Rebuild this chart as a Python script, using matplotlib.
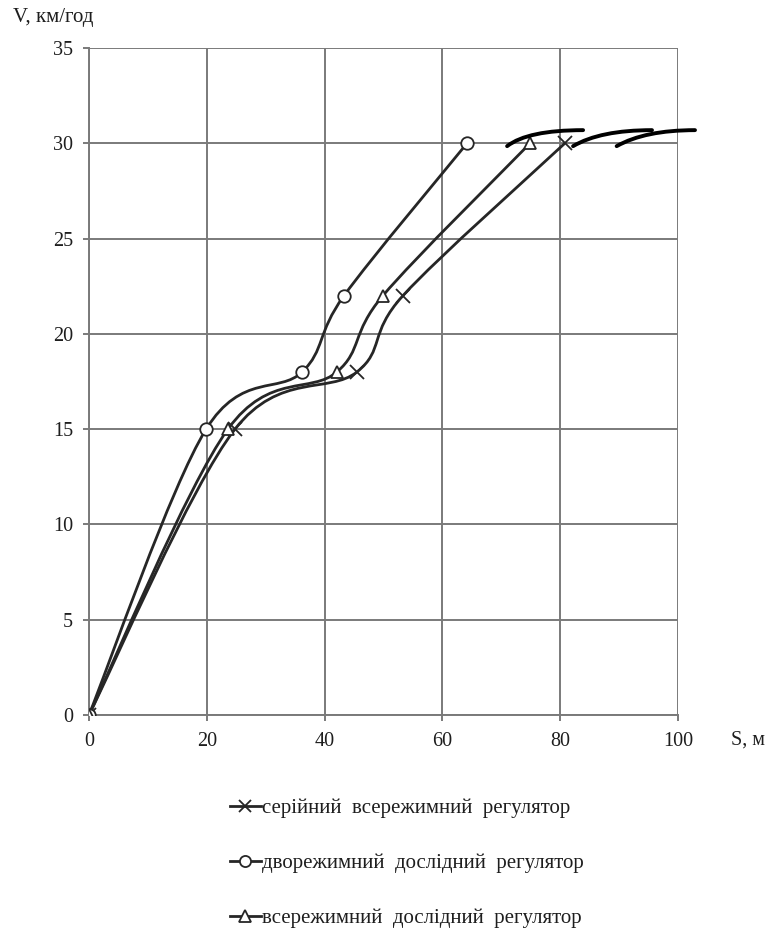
import matplotlib
matplotlib.use("Agg")
import matplotlib.pyplot as plt
from matplotlib.path import Path
from matplotlib.patches import PathPatch
from matplotlib.lines import Line2D

plt.rcParams['font.family'] = ['Liberation Serif', 'DejaVu Serif']

# data
s_serial = [0, 24.8, 45.5, 53.3, 80.8]
v_serial = [0, 15, 18, 22, 30]
s_dual = [0, 19.9, 36.2, 43.3, 64.2]
v_dual = [0, 15, 18, 22, 30]
s_allmode = [0, 23.6, 42.1, 49.9, 74.9]
v_allmode = [0, 15, 18, 22, 30]

# short strokes near the top right (start, bend, end)
arc_s = [[71.0, 74.5, 83.9], [82.2, 86.8, 95.6], [89.6, 94.4, 102.9]]
arc_v = [[29.85, 30.43, 30.69], [29.85, 30.38, 30.69], [29.85, 30.38, 30.69]]

labels = ['серійний  всережимний  регулятор',
          'дворежимний  дослідний  регулятор',
          'всережимний  дослідний  регулятор']

LINE = '#262626'
TEXT = '#1e1e1e'


def smooth_path(xs, ys):
    """excel style smoothed line through the points"""
    pts = list(zip(xs, ys))
    verts = [pts[0]]
    codes = [Path.MOVETO]
    n = len(pts)
    for i in range(n - 1):
        p0 = pts[i - 1] if i > 0 else pts[i]
        p1 = pts[i]
        p2 = pts[i + 1]
        p3 = pts[i + 2] if i + 2 < n else pts[i + 1]
        c1 = (p1[0] + (p2[0] - p0[0]) / 6, p1[1] + (p2[1] - p0[1]) / 6)
        c2 = (p2[0] - (p3[0] - p1[0]) / 6, p2[1] - (p3[1] - p1[1]) / 6)
        verts += [c1, c2, p2]
        codes += [Path.CURVE4] * 3
    return Path(verts, codes)


fig = plt.figure(figsize=(7.73, 9.32), dpi=100)
ax = fig.add_axes([0.115, 0.2328, 0.762, 0.7157])

series = [(s_serial, v_serial, 'x'), (s_dual, v_dual, 'o'), (s_allmode, v_allmode, '^')]
for xs, ys, m in series:
    ax.add_patch(PathPatch(smooth_path(xs, ys), fill=False, edgecolor=LINE, lw=2.0, zorder=3))
    ax.plot(xs, ys, ls='none', marker=m, ms=9 if m != 'x' else 10, mfc='white',
            mec=LINE, mew=1.3, zorder=4)

for xs, ys in zip(arc_s, arc_v):
    p = Path([(xs[0], ys[0]), (xs[1], ys[2]), (xs[2], ys[2])],
             [Path.MOVETO, Path.CURVE3, Path.CURVE3])
    ax.add_patch(PathPatch(p, fill=False, edgecolor='black', lw=2.8,
                           capstyle='round', clip_on=False, zorder=5))

ax.set_xlim(0, 100)
ax.set_ylim(0, 35)
ax.set_xticks(range(0, 101, 20))
ax.set_yticks(range(0, 36, 5))
ax.grid(True, color='#7a7a7a', lw=1.4)
for side in ['top', 'right']:
    ax.spines[side].set_visible(False)
for side in ['left', 'bottom']:
    ax.spines[side].set_color('#7a7a7a')
    ax.spines[side].set_linewidth(1.4)
ax.tick_params(colors='#7a7a7a', labelcolor=TEXT, labelsize=14.5, length=4.5, width=1.4)
ax.tick_params(axis='x', pad=8)
ax.tick_params(axis='y', pad=7)
ax.set_axisbelow(True)

fig.text(0.017, 0.981, 'V, км/год', fontsize=15, color=TEXT, va='center')
fig.text(0.968, 0.206, 'S, м', fontsize=14.5, color=TEXT, va='center', ha='center')

handles = [Line2D([], [], color=LINE, lw=2.0, marker=m, ms=8 if m != 'x' else 9,
                  mfc='white', mec=LINE, mew=1.3) for _, _, m in series]
fig.legend(handles, labels, loc='center left', bbox_to_anchor=(0.298, 0.074),
           frameon=False, fontsize=15, labelspacing=1.7, handlelength=1.45,
           handletextpad=0.05, borderpad=0, borderaxespad=0, labelcolor=TEXT)

fig.savefig('out.png', dpi=100)
